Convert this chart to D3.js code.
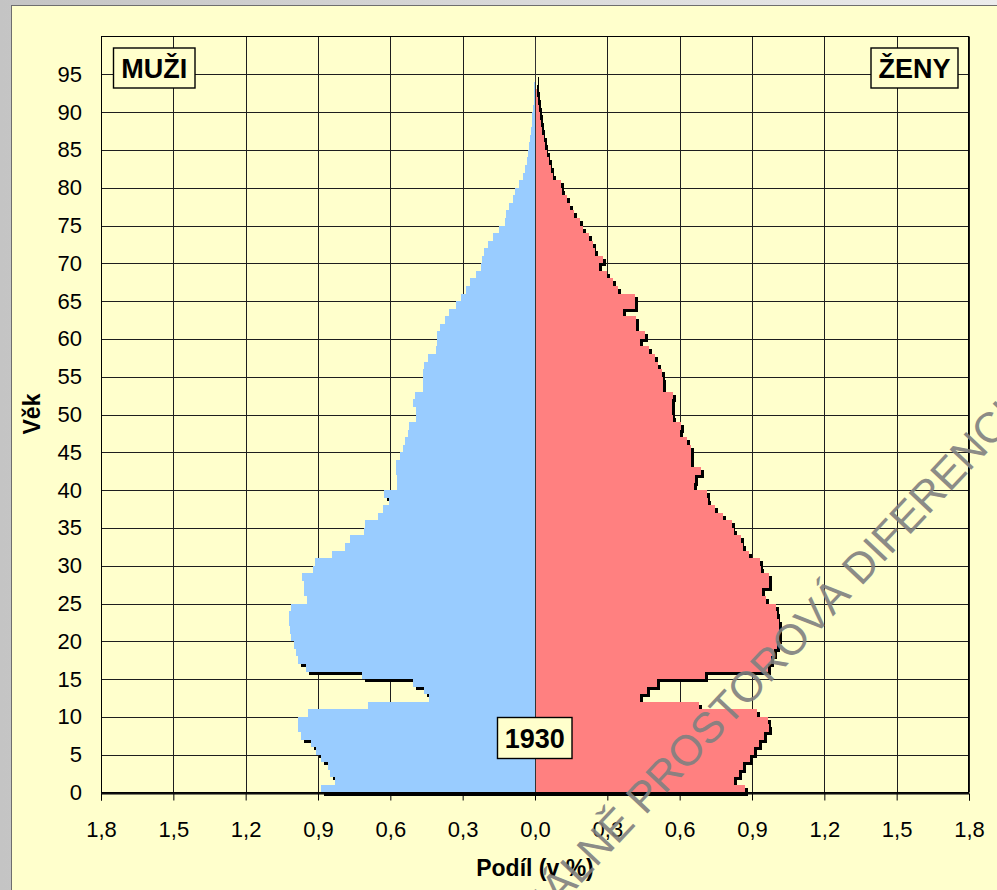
<!DOCTYPE html>
<html>
<head>
<meta charset="utf-8">
<script src="https://cdn.jsdelivr.net/npm/d3@7"></script>
<style>
  body { margin: 0; background: #fff; }
  svg { display: block; }
  text { font-family: 'Liberation Sans', Arial, sans-serif; }
</style>
</head>
<body>
<div id="pyramid"></div>
<script>
// share of population by single year of age, 1930 (in %)
let ages = d3.range(0, 95)

let male = [
  0.887, 0.831, 0.852, 0.859, 0.887, 0.907, 0.930, 0.970, 0.984, 0.984,
  0.942, 0.693, 0.438, 0.461, 0.508, 0.716, 0.950, 0.981, 0.993, 0.998,
  1.010, 1.018, 1.022, 1.020, 1.010, 0.945, 0.959, 0.959, 0.967, 0.921,
  0.913, 0.844, 0.787, 0.768, 0.711, 0.705, 0.653, 0.630, 0.605, 0.625,
  0.574, 0.574, 0.576, 0.575, 0.561, 0.549, 0.539, 0.528, 0.521, 0.495,
  0.493, 0.507, 0.497, 0.466, 0.465, 0.463, 0.461, 0.442, 0.409, 0.407,
  0.407, 0.396, 0.373, 0.358, 0.328, 0.305, 0.287, 0.270, 0.244, 0.224,
  0.220, 0.211, 0.194, 0.175, 0.148, 0.124, 0.122, 0.107, 0.093, 0.083,
  0.066, 0.050, 0.040, 0.033, 0.029, 0.026, 0.021, 0.018, 0.014, 0.011,
  0.008, 0.006, 0.004, 0.003, 0.002
]

let female = [
  0.869, 0.825, 0.845, 0.862, 0.890, 0.907, 0.928, 0.949, 0.970, 0.966,
  0.921, 0.679, 0.436, 0.464, 0.506, 0.707, 0.968, 0.980, 0.990, 1.004,
  1.011, 1.011, 1.011, 1.002, 0.998, 0.956, 0.942, 0.970, 0.970, 0.938,
  0.935, 0.887, 0.863, 0.855, 0.824, 0.817, 0.779, 0.748, 0.716, 0.713,
  0.658, 0.665, 0.690, 0.648, 0.647, 0.647, 0.630, 0.603, 0.607, 0.571,
  0.568, 0.568, 0.572, 0.531, 0.529, 0.526, 0.510, 0.496, 0.471, 0.436,
  0.457, 0.420, 0.418, 0.367, 0.416, 0.416, 0.346, 0.323, 0.300, 0.265,
  0.280, 0.250, 0.240, 0.222, 0.200, 0.185, 0.162, 0.146, 0.132, 0.112,
  0.107, 0.075, 0.065, 0.056, 0.048, 0.042, 0.036, 0.030, 0.023, 0.019,
  0.015, 0.012, 0.009, 0.006, 0.004
]

let xTicks = [-1.8, -1.5, -1.2, -0.9, -0.6, -0.3, 0, 0.3, 0.6, 0.9, 1.2, 1.5, 1.8]
let yTicks = [0, 5, 10, 15, 20, 25, 30, 35, 40, 45, 50, 55, 60, 65, 70, 75, 80, 85, 90, 95]

let width = 997,
  height = 890,
  plot = { left: 101, right: 969, top: 36.5, bottom: 792.5 },
  shadowOffset = 3, // black drop shadow of the bars
  chartBg = '#ffffcc',
  maleColor = '#99ccff',
  femaleColor = '#ff8080'

let x = d3.scaleLinear()
  .domain([-1.8, 1.8])
  .range([plot.left, plot.right])

let y = d3.scaleLinear()
  .domain([0, 100])
  .range([plot.bottom, plot.top])

let bars = ages.map((a, i) => ({ age: a, value: -male[i], color: maleColor }))
  .concat(ages.map((a, i) => ({ age: a, value: female[i], color: femaleColor })))

let svg = d3.select('#pyramid').append('svg')
  .attr('width', width)
  .attr('height', height)

let defs = svg.append('defs')
let grad = defs.append('linearGradient')
  .attr('id', 'frame-grad')
  .attr('x1', 0).attr('x2', 1).attr('y1', 0).attr('y2', 0)
grad.append('stop').attr('offset', '0%').attr('stop-color', '#c4c4c4')
grad.append('stop').attr('offset', '100%').attr('stop-color', '#ececec')

// slide background + chart area
svg.append('rect')
  .attr('width', width)
  .attr('height', height)
  .attr('fill', 'url(#frame-grad)')

svg.append('rect')
  .attr('x', 11.5)
  .attr('y', 5.5)
  .attr('width', width)
  .attr('height', height)
  .attr('fill', chartBg)
  .attr('stroke', '#6e6e6e')

// gridlines
let grid = svg.append('g').attr('stroke', '#1e1e1e').attr('stroke-width', 1)

grid.selectAll('.h-grid')
  .data(yTicks)
  .enter().append('line')
  .attr('x1', plot.left)
  .attr('x2', plot.right)
  .attr('y1', d => Math.round(y(d)) + 0.5)
  .attr('y2', d => Math.round(y(d)) + 0.5)

grid.selectAll('.v-grid')
  .data(xTicks)
  .enter().append('line')
  .attr('x1', d => Math.round(x(d)) + 0.5)
  .attr('x2', d => Math.round(x(d)) + 0.5)
  .attr('y1', plot.top)
  .attr('y2', plot.bottom)

function barX(d) {
  return Math.min(x(0), x(d.value))
}
function barW(d) {
  return Math.abs(x(d.value) - x(0))
}

// shadows first, bars on top
svg.append('g')
  .attr('transform', 'translate(' + shadowOffset + ',' + shadowOffset + ')')
  .selectAll('rect')
  .data(bars)
  .enter().append('rect')
  .attr('x', barX)
  .attr('y', d => y(d.age + 1))
  .attr('width', barW)
  .attr('height', d => y(d.age) - y(d.age + 1))
  .attr('fill', '#000')
  .attr('shape-rendering', 'crispEdges')

svg.append('g')
  .selectAll('rect')
  .data(bars)
  .enter().append('rect')
  .attr('x', barX)
  .attr('y', d => y(d.age + 1))
  .attr('width', barW)
  .attr('height', d => y(d.age) - y(d.age + 1))
  .attr('fill', d => d.color)
  .attr('shape-rendering', 'crispEdges')

// centre axis
svg.append('line')
  .attr('x1', Math.round(x(0)) + 0.5)
  .attr('x2', Math.round(x(0)) + 0.5)
  .attr('y1', plot.top + 3)
  .attr('y2', plot.bottom)
  .attr('stroke', '#333')

svg.append('rect')
  .attr('x', plot.left + 0.5)
  .attr('y', plot.top)
  .attr('width', plot.right - plot.left - 1)
  .attr('height', plot.bottom - plot.top)
  .attr('fill', 'none')
  .attr('stroke', '#000')

// axes
let fmt = d3.format('.1f')

let xAxis = svg.append('g')
  .attr('transform', 'translate(0,' + (Math.round(plot.bottom) + 0.5) + ')')
  .call(d3.axisBottom(x)
    .tickValues(xTicks)
    .tickSize(7)
    .tickPadding(21)
    .tickFormat(d => fmt(Math.abs(d)).replace('.', ',')))
xAxis.select('.domain').attr('stroke', '#000')
xAxis.selectAll('text').attr('font-size', 22).attr('fill', '#000').style('font-family', "'Liberation Sans', Arial, sans-serif")

let yAxis = svg.append('g')
  .attr('transform', 'translate(' + plot.left + ',0)')
  .call(d3.axisLeft(y)
    .tickValues(yTicks)
    .tickSize(0)
    .tickPadding(19))
yAxis.select('.domain').remove()
yAxis.selectAll('text').attr('font-size', 22).attr('fill', '#000').style('font-family', "'Liberation Sans', Arial, sans-serif")

svg.append('text')
  .attr('transform', 'translate(40,414) rotate(-90)')
  .attr('text-anchor', 'middle')
  .attr('font-size', 23)
  .attr('font-weight', 'bold')
  .text('Věk')

svg.append('text')
  .attr('x', x(0))
  .attr('y', 876)
  .attr('text-anchor', 'middle')
  .attr('font-size', 23)
  .attr('font-weight', 'bold')
  .text('Podíl (v %)')

// label boxes
let boxes = [
  { label: 'MUŽI', x: 113.5, y: 48, w: 81.5, h: 40 },
  { label: 'ŽENY', x: 871, y: 48, w: 87, h: 40 },
  { label: '1930', x: 497.5, y: 717.5, w: 74.5, h: 41 }
]

let box = svg.append('g').selectAll('g')
  .data(boxes)
  .enter().append('g')

box.append('rect')
  .attr('x', d => d.x)
  .attr('y', d => d.y)
  .attr('width', d => d.w)
  .attr('height', d => d.h)
  .attr('fill', chartBg)
  .attr('stroke', '#000')
  .attr('stroke-width', 1.4)

box.append('text')
  .attr('x', d => d.x + d.w / 2)
  .attr('y', d => d.y + d.h / 2 + 10)
  .attr('text-anchor', 'middle')
  .attr('font-size', 27)
  .attr('font-weight', 'bold')
  .text(d => d.label)

// watermark from the source image
svg.append('text')
  .attr('transform', 'translate(644,795) rotate(-46.7)')
  .attr('x', -244)
  .attr('y', 15)
  .attr('font-size', 43)
  .attr('fill', '#808080')
  .attr('opacity', 0.9)
  .text('SOCIÁLNĚ PROSTOROVÁ DIFERENCIACE')
</script>
</body>
</html>
